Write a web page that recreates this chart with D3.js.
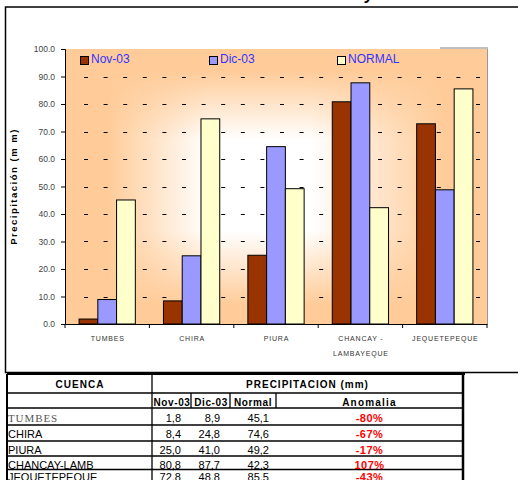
<!DOCTYPE html>
<html><head><meta charset="utf-8">
<script src="https://cdn.jsdelivr.net/npm/d3@7"></script>
<style>body{margin:0;background:#fff;}svg{display:block;font-family:"Liberation Sans",Arial,sans-serif;}</style>
</head><body>
<svg id="c" width="518" height="480"></svg>
<script>
// ---- data ----
const categories = ["TUMBES","CHIRA","PIURA","CHANCAY - LAMBAYEQUE","JEQUETEPEQUE"];
const seriesNames = ["Nov-03","Dic-03","NORMAL"];
const nov03 = [1.8, 8.4, 25.0, 80.8, 72.8];
const dic03Chart = [8.9, 24.8, 64.5, 87.7, 48.8];
const normal = [45.1, 74.6, 49.2, 42.3, 85.5];
const yTicks = [0,10,20,30,40,50,60,70,80,90,100];
const tableCuenca = ["TUMBES","CHIRA","PIURA","CHANCAY-LAMB","JEQUETEPEQUE"];
const tableNov = [1.8, 8.4, 25.0, 80.8, 72.8];
const tableDic = [8.9, 24.8, 41.0, 87.7, 48.8];
const tableNormal = [45.1, 74.6, 49.2, 42.3, 85.5];
const tableAnomalia = ["-80%","-67%","-17%","107%","-43%"];
const colors = ["#993300","#9999ff","#ffffcc"];

const svg = d3.select("#c");
const defs = svg.append("defs");

// title fragment (cut off at top)
svg.append("text").attr("x",365).attr("y",0).attr("font-size",16).attr("font-weight","bold")
  .attr("font-style","italic").text("y");

// chart frame
svg.append("rect").attr("x",5.5).attr("y",7).attr("width",520).attr("height",365.5)
  .attr("fill","none").attr("stroke","#000").attr("stroke-width",1.5);

const L=65, R=487, T=49, B=324;
const x = d3.scaleBand().domain(categories).range([L,R]).paddingInner(0).paddingOuter(0);
const y = d3.scaleLinear().domain([0,100]).range([B,T]);
const sub = d3.scaleBand().domain(seriesNames).range([0,x.bandwidth()*2/3]);

// background gradient: orange base + white box-ish glow
const gx = defs.append("linearGradient").attr("id","gx").attr("x1",0).attr("x2",1).attr("y1",0).attr("y2",0);
[[0,"#000"],[0.1,"#000"],[0.34,"#fff"],[0.58,"#fff"],[0.9,"#000"],[1,"#000"]].forEach(s=>gx.append("stop").attr("offset",s[0]).attr("stop-color",s[1]));
const gy = defs.append("linearGradient").attr("id","gy").attr("x1",0).attr("x2",0).attr("y1",0).attr("y2",1);
[[0,"#000"],[0.08,"#000"],[0.33,"#fff"],[0.66,"#fff"],[0.93,"#000"],[1,"#000"]].forEach(s=>gy.append("stop").attr("offset",s[0]).attr("stop-color",s[1]));
defs.append("mask").attr("id","mx").attr("maskUnits","userSpaceOnUse")
  .append("rect").attr("x",L).attr("y",T).attr("width",R-L).attr("height",B-T).attr("fill","url(#gx)");
defs.append("mask").attr("id","my").attr("maskUnits","userSpaceOnUse")
  .append("rect").attr("x",L).attr("y",T).attr("width",R-L).attr("height",B-T).attr("fill","url(#gy)");

svg.append("rect").attr("x",L).attr("y",T).attr("width",R-L).attr("height",B-T).attr("fill","#ffcc99");
svg.append("g").attr("mask","url(#mx)").append("rect").attr("mask","url(#my)")
  .attr("x",L).attr("y",T).attr("width",R-L).attr("height",B-T).attr("fill","#ffffff");
svg.append("line").attr("x1",R+0.5).attr("x2",R+0.5).attr("y1",T).attr("y2",B).attr("stroke","#999").attr("stroke-width",1);
svg.append("line").attr("x1",440).attr("x2",R+1).attr("y1",T-1).attr("y2",T-1).attr("stroke","#aaa").attr("stroke-width",1.5);

// gridlines
svg.append("g").selectAll("line").data(yTicks.filter(d=>d>0&&d<100)).join("line")
  .attr("x1",L+19).attr("x2",R-4).attr("y1",d=>Math.round(y(d))+0.5).attr("y2",d=>Math.round(y(d))+0.5)
  .attr("stroke","#000").attr("stroke-width",1).attr("stroke-dasharray","4,15.6");

// bars
const series = [nov03, dic03Chart, normal];
const groups = svg.append("g").selectAll("g").data(categories).join("g")
  .attr("transform",d=>`translate(${x(d)+x.bandwidth()/6},0)`);
groups.selectAll("rect").data((d,i)=>series.map((s,j)=>({name:seriesNames[j],v:s[i],j}))).join("rect")
  .attr("x",d=>sub(d.name)).attr("width",sub.bandwidth())
  .attr("y",d=>y(d.v)).attr("height",d=>B-y(d.v))
  .attr("fill",d=>colors[d.j]).attr("stroke","#000").attr("stroke-width",1);

// y axis
const ya = svg.append("g").attr("transform",`translate(${L},0)`)
  .call(d3.axisLeft(y).tickValues(yTicks).tickFormat(d3.format(".1f")).tickSize(4).tickPadding(6));
ya.select(".domain").attr("stroke","#000");
ya.selectAll("text").attr("font-size",8.5).attr("fill","#444").attr("font-family","Liberation Sans, Arial");

// x axis
const xa = svg.append("g").attr("transform",`translate(0,${B})`)
  .call(d3.axisBottom(x).tickSize(0).tickFormat(""));
xa.select(".domain").attr("stroke","#000");
svg.append("g").selectAll("line").data(d3.range(categories.length+1)).join("line")
  .attr("x1",i=>L+i*x.bandwidth()).attr("x2",i=>L+i*x.bandwidth()).attr("y1",B).attr("y2",B+4).attr("stroke","#000");
categories.forEach(c=>{
  const parts = c.indexOf(" - ")>=0 ? ["CHANCAY -","LAMBAYEQUE"] : [c];
  parts.forEach((p,k)=>svg.append("text").attr("x",x(c)+x.bandwidth()/2+0.5).attr("y",341+k*15)
    .attr("text-anchor","middle").attr("font-size",7).attr("letter-spacing",0.8).attr("fill","#333").text(p));
});

// y title
svg.append("text").attr("transform",`translate(17,${(T+B)/2}) rotate(-90)`).attr("text-anchor","middle")
  .attr("font-size",9.5).attr("font-weight","bold").attr("letter-spacing",1.5).attr("fill","#000").text("Precipitación (m m)");

// legend
const legX = [80, 209, 337];
seriesNames.forEach((n,i)=>{
  svg.append("rect").attr("x",legX[i]+0.5).attr("y",56.5).attr("width",8).attr("height",8)
    .attr("fill",colors[i]).attr("stroke","#000").attr("stroke-width",1);
  svg.append("text").attr("x",legX[i]+11).attr("y",63).attr("font-size",12).attr("fill","#3333ff").text(n);
});

// table
const tL=7, tR=463;
const colX = [7,152,191,230,276,463];
const rowY = [374,393,408,425,441,456,469.5,484];
const tg = svg.append("g");
rowY.slice(1).forEach(yy=>tg.append("line").attr("x1",tL).attr("x2",tR).attr("y1",yy).attr("y2",yy).attr("stroke","#000").attr("stroke-width",1.3));
tg.append("line").attr("x1",tL).attr("x2",tR+2).attr("y1",rowY[0]).attr("y2",rowY[0]).attr("stroke","#000").attr("stroke-width",2);
tg.append("line").attr("x1",tL).attr("x2",tL).attr("y1",rowY[0]).attr("y2",480).attr("stroke","#000").attr("stroke-width",2);
tg.append("line").attr("x1",tR).attr("x2",tR).attr("y1",rowY[0]).attr("y2",480).attr("stroke","#000").attr("stroke-width",2.5);
tg.append("line").attr("x1",colX[1]).attr("x2",colX[1]).attr("y1",rowY[0]).attr("y2",480).attr("stroke","#000").attr("stroke-width",1.3);
[2,3,4].forEach(k=>tg.append("line").attr("x1",colX[k]).attr("x2",colX[k]).attr("y1",rowY[1]).attr("y2",rowY[2]).attr("stroke","#000").attr("stroke-width",1.3));

const hdr = (t,xx,yy,ls)=>tg.append("text").attr("x",xx).attr("y",yy).attr("text-anchor","middle")
  .attr("font-size",10).attr("font-weight","bold").attr("letter-spacing",ls).text(t);
hdr("CUENCA",(colX[0]+colX[1])/2+0.5,388,1);
hdr("PRECIPITACION (mm)",(colX[1]+colX[5])/2,388,1);
hdr("Nov-03",(colX[1]+colX[2])/2+0.5,406,0.6);
hdr("Dic-03",(colX[2]+colX[3])/2+0.5,406,0.6);
hdr("Normal",(colX[3]+colX[4])/2,406,0.6);
hdr("Anomalia",(colX[4]+colX[5])/2,406,1.2);

const fmt = v=>v.toFixed(1).replace(".",",");
const baseY = [422,438,454,469,481];
tableCuenca.forEach((c,i)=>{
  const t = tg.append("text").attr("x",8).attr("y",baseY[i]).attr("font-size",11).text(c);
  if(i===0) t.attr("font-family","Liberation Serif, Times New Roman, serif").attr("fill","#555").attr("letter-spacing",0.9);
  [[tableNov,181],[tableDic,220],[tableNormal,269]].forEach(([arr,xx])=>
    tg.append("text").attr("x",xx).attr("y",baseY[i]).attr("text-anchor","end").attr("font-size",11).text(fmt(arr[i])));
  tg.append("text").attr("x",(colX[4]+colX[5])/2).attr("y",baseY[i]).attr("text-anchor","middle")
    .attr("font-size",11).attr("font-weight","bold").attr("letter-spacing",0.5).attr("fill","#ff0000").text(tableAnomalia[i]);
});
</script>
</body></html>
